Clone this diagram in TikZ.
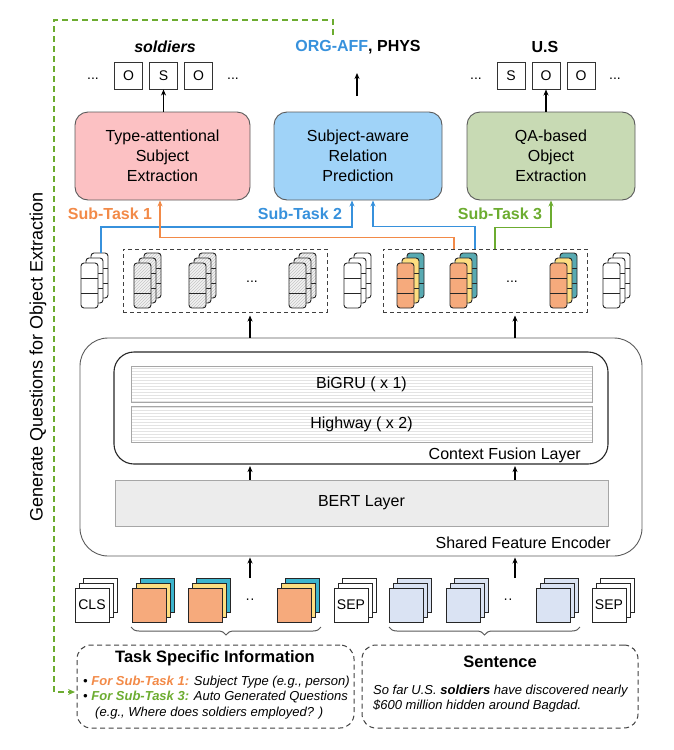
\documentclass[tikz,border=0pt]{standalone}
\usepackage{fontspec}
\setmainfont{Liberation Sans}
\usetikzlibrary{arrows.meta,patterns,decorations.pathreplacing,calc}

\definecolor{orc}{RGB}{242,138,72}
\definecolor{blc}{RGB}{55,145,220}
\definecolor{grc}{RGB}{108,172,48}
\definecolor{pinkf}{RGB}{252,193,195}
\definecolor{bluef}{RGB}{160,211,248}
\definecolor{greenf}{RGB}{200,218,180}
\definecolor{orf}{RGB}{246,170,124}
\definecolor{yef}{RGB}{253,222,128}
\definecolor{tef}{RGB}{88,170,178}
\definecolor{cyf}{RGB}{60,180,205}
\definecolor{tbf}{RGB}{218,227,243}
\definecolor{edge}{RGB}{90,90,90}

\newcommand\fs[2]{\fontsize{#1}{#2}\selectfont}

\tikzset{
 taskbox/.style={draw=edge, line width=0.9pt, rounded corners=13pt, minimum height=88pt, align=center, font=\fs{16}{20}},
 tag/.style={draw=black!80, line width=1pt, minimum width=28pt, minimum height=27pt, inner sep=0pt, font=\fs{14}{16}},
 lab/.style={font=\bfseries\fs{16}{19}},
 smalltxt/.style={font=\fs{14}{16}},
 arr/.style={-{Stealth[length=6pt,width=5pt]}, line width=1.3pt},
 carr/.style={-{Stealth[length=6pt,width=5pt]}, line width=1.4pt},
 dbox/.style={draw=black!75, dash pattern=on 4pt off 3pt, line width=1pt, minimum width=204pt, minimum height=63pt},
 bbox/.style={draw=black!75, dash pattern=on 5pt off 3.5pt, line width=1pt, rounded corners=14pt, minimum height=83pt},
 layer/.style={draw=black!85, line width=0.9pt, rounded corners=3pt},
 tok/.style={draw=black!85, line width=0.9pt},
 wl/.style={fill=white},
 ht/.style={preaction={fill=gray!10}, pattern=north east lines, pattern color=gray!45},
 ofl/.style={fill=orf},
 yfl/.style={fill=yef},
 tfl/.style={fill=tef},
 brc/.style={draw=black!65, line width=1pt, decorate, decoration={brace, mirror, amplitude=8pt}},
 gdash/.style={draw=grc, line width=1.4pt, dash pattern=on 6pt off 4pt, -{Stealth[length=7pt,width=6pt]}},
 bar/.style={draw=gray!70, line width=0.8pt, preaction={fill=white}, pattern=horizontal lines, pattern color=gray!22, font=\fs{16}{19}},
 lbl/.style={inner sep=0pt, font=\fs{16}{19}},
}

\newcommand\stacklayer[3]{%
  \draw[layer,#3] (#1,#2) rectangle ++(17,45);
  \draw[layer] (#1,#2+15) -- ++(17,0) (#1,#2+30) -- ++(17,0);
}
\newcommand\colstack[4]{%
  \stacklayer{#1+10}{253}{#4}
  \stacklayer{#1+5}{258}{#3}
  \stacklayer{#1}{263}{#2}
}
\newcommand\tokstack[4]{%
  \draw[tok, fill=#4] (#1+8,578) rectangle ++(34,34);
  \draw[tok, fill=#3] (#1+4,583) rectangle ++(34,34);
  \draw[tok, fill=#2] (#1,588) rectangle ++(34,34);
}

\begin{document}
\begin{tikzpicture}[x=1pt,y=-1pt,font=\fs{16}{20}]
\useasboundingbox (0,0) rectangle (674,750);

% ---------- task boxes ----------
\node[taskbox, fill=pinkf, minimum width=175pt] (b1) at (162.5,156) {Type-attentional\\Subject\\Extraction};
\node[taskbox, fill=bluef, minimum width=168pt] (b2) at (358,156) {Subject-aware\\Relation\\Prediction};
\node[taskbox, fill=greenf, minimum width=168pt] (b3) at (551,156) {QA-based\\Object\\Extraction};

% ---------- output tags ----------
\node[tag] (ta1) at (128.5,75.5) {O};
\node[tag] (ta2) at (163.5,75.5) {S};
\node[tag] (ta3) at (198.5,75.5) {O};
\node[tag] (tb1) at (511,75.5) {S};
\node[tag] (tb2) at (546,75.5) {O};
\node[tag] (tb3) at (581,75.5) {O};
\node[smalltxt] (da1) at (93,79) {...};
\node[smalltxt] (da2) at (233,79) {...};
\node[smalltxt] (db1) at (476,79) {...};
\node[smalltxt] (db2) at (615,79) {...};

\node[font=\bfseries\itshape\fs{16}{19}] (lsol) at (165,47) {soldiers};
\node[lab] (lrel) at (358,47) {\textcolor{blc}{ORG-AFF}, PHYS};
\node[lab] (lus) at (545,47) {U.S};

\draw[arr] (ta2.south |- b1.north) -- (ta2.south);
\draw[arr] (tb2.south |- b3.north) -- (tb2.south);
\coordinate (r0) at (357,96);
\coordinate (r1) at (357,73);
\draw[arr] (r0) -- (r1);

% ---------- sub-task labels ----------
\node[lab, text=orc] (st1) at (110,214) {Sub-Task 1};
\node[lab, text=blc] (st2) at (300,214) {Sub-Task 2};
\node[lab, text=grc] (st3) at (500,214) {Sub-Task 3};

% ---------- feature stacks ----------
\node[dbox] (dbA) at (225,280.5) {};
\node[dbox] (dbB) at (485,280.5) {};
\colstack{81}{wl}{wl}{wl}
\colstack{134}{ht}{ht}{ht}
\colstack{189}{ht}{ht}{ht}
\colstack{289}{ht}{ht}{ht}
\colstack{344}{wl}{wl}{wl}
\colstack{397}{ofl}{yfl}{tfl}
\colstack{450}{ofl}{yfl}{tfl}
\colstack{550}{ofl}{yfl}{tfl}
\colstack{603}{wl}{wl}{wl}
\node[smalltxt] (dsA) at (252,282) {...};
\node[smalltxt] (dsB) at (512,282) {...};

% ---------- sub-task connectors ----------
\coordinate (s1top) at (101,253);
\coordinate (oStart) at ([xshift=-31pt]dbB.north);
\coordinate (bStart) at ([xshift=-10pt]dbB.north);
\coordinate (gStart) at ([xshift=10pt]dbB.north);
\coordinate (b1in) at ([xshift=-2.5pt]b1.south);
\coordinate (b2inA) at ([xshift=-6pt]b2.south);
\coordinate (b2inB) at ([xshift=15pt]b2.south);
\coordinate (b3in) at (b3.south);
\draw[carr, blc] (s1top) -- ++(0,-26) -| (b2inA);
\draw[carr, blc] (bStart) -- ++(0,-22) -| (b2inB);
\draw[carr, orc] (oStart) -- ++(0,-11) -| (b1in);
\draw[carr, grc] (gStart) -- ++(0,-21) -| (b3in);

% ---------- shared feature encoder ----------
\node[draw=edge, line width=0.9pt, rounded corners=28pt, minimum width=562pt, minimum height=218pt] (enc) at (361,447) {};
\node[draw=black!85, line width=1.1pt, rounded corners=20pt, minimum width=494pt, minimum height=112pt] (fus) at (361,408) {};
\node[bar, minimum width=461pt, minimum height=36pt] (bigru) at (361.5,384) {BiGRU ( x 1)};
\node[bar, minimum width=461pt, minimum height=36pt] (hw) at (361.5,424) {Highway ( x 2)};
\node[draw=gray!70, line width=0.8pt, fill=gray!15, minimum width=493pt, minimum height=46pt, font=\fs{16}{19}] (bert) at (361.5,503) {BERT Layer};
\node[lbl, anchor=east] (lfus) at (581,455) {Context Fusion Layer};
\node[lbl, anchor=east] (lenc) at (611,543) {Shared Feature Encoder};

\coordinate (cL) at (250,0);
\coordinate (cR) at (515,0);
\draw[arr, shorten >=3pt] (enc.north -| cL) -- (dbA.south -| cL);
\draw[arr, shorten >=3pt] (enc.north -| cR) -- (dbB.south -| cR);
\draw[arr, shorten >=1.5pt] (bert.north -| cL) -- (fus.south -| cL);
\draw[arr, shorten >=1.5pt] (bert.north -| cR) -- (fus.south -| cR);
\coordinate (tkL) at (250,578);
\coordinate (tkR) at (515,578);
\draw[arr, shorten >=1pt] (tkL) -- (enc.south -| cL);
\draw[arr, shorten >=1pt] (tkR) -- (enc.south -| cR);

% ---------- input tokens ----------
\tokstack{75}{white}{white}{white}
\tokstack{132}{orf}{yef}{cyf}
\tokstack{188}{orf}{yef}{cyf}
\tokstack{277}{orf}{yef}{cyf}
\tokstack{334}{white}{white}{white}
\tokstack{389}{tbf}{tbf}{tbf}
\tokstack{446}{tbf}{tbf}{tbf}
\tokstack{536}{tbf}{tbf}{tbf}
\tokstack{592}{white}{white}{white}
\node[smalltxt] (cls) at (92,605) {CLS};
\node[smalltxt] (sep1) at (351,605) {SEP};
\node[smalltxt] (sep2) at (609,605) {SEP};
\node[smalltxt] (dt1) at (250,601) {··};
\node[smalltxt] (dt2) at (508,601) {··};

\coordinate (brA1) at (131,627);
\coordinate (brA2) at (321,627);
\coordinate (brB1) at (389,627);
\coordinate (brB2) at (580,627);
\draw[brc] (brA1) -- (brA2);
\draw[brc] (brB1) -- (brB2);

% ---------- bottom info boxes ----------
\node[bbox, minimum width=277pt] (tbox) at (215.5,686.5) {};
\node[bbox, minimum width=276pt] (sbox) at (500,686.5) {};
\node[font=\bfseries\fs{16.5}{19}] (ttsi) at (215,658) {Task Specific Information};
\node[font=\bfseries\fs{16.5}{19}] (tsen) at (500,662) {Sentence};
\node[anchor=base west, inner sep=0pt, font=\itshape\fs{13}{15}] (l1) at (83,685.5) {•\ \textcolor{orc}{\bfseries For Sub-Task 1:} Subject Type (e.g., person)};
\node[anchor=base west, inner sep=0pt, font=\itshape\fs{13}{15}] (l2) at (83,700.5) {•\ \textcolor{grc}{\bfseries For Sub-Task 3:} Auto Generated Questions};
\node[anchor=base west, inner sep=0pt, font=\itshape\fs{13}{15}] (l3) at (95,716.5) {(e.g., Where does soldiers employed? )};
\node[anchor=base west, inner sep=0pt, font=\itshape\fs{13}{15}] (s1) at (373,694.5) {So far U.S. \textbf{soldiers} have discovered nearly};
\node[anchor=base west, inner sep=0pt, font=\itshape\fs{13}{15}] (s2) at (373,709.5) {\$600 million hidden around Bagdad.};

% ---------- generated questions loop ----------
\node[rotate=90, font=\fs{18}{20}] (gq) at (38,357) {Generate Questions for Object Extraction};
\coordinate (g0) at (333,35);
\coordinate (gc) at (54,20);
\coordinate (gEnd) at (75,692);
\draw[gdash] (g0) |- (gc) |- (gEnd);
\end{tikzpicture}
\end{document}
